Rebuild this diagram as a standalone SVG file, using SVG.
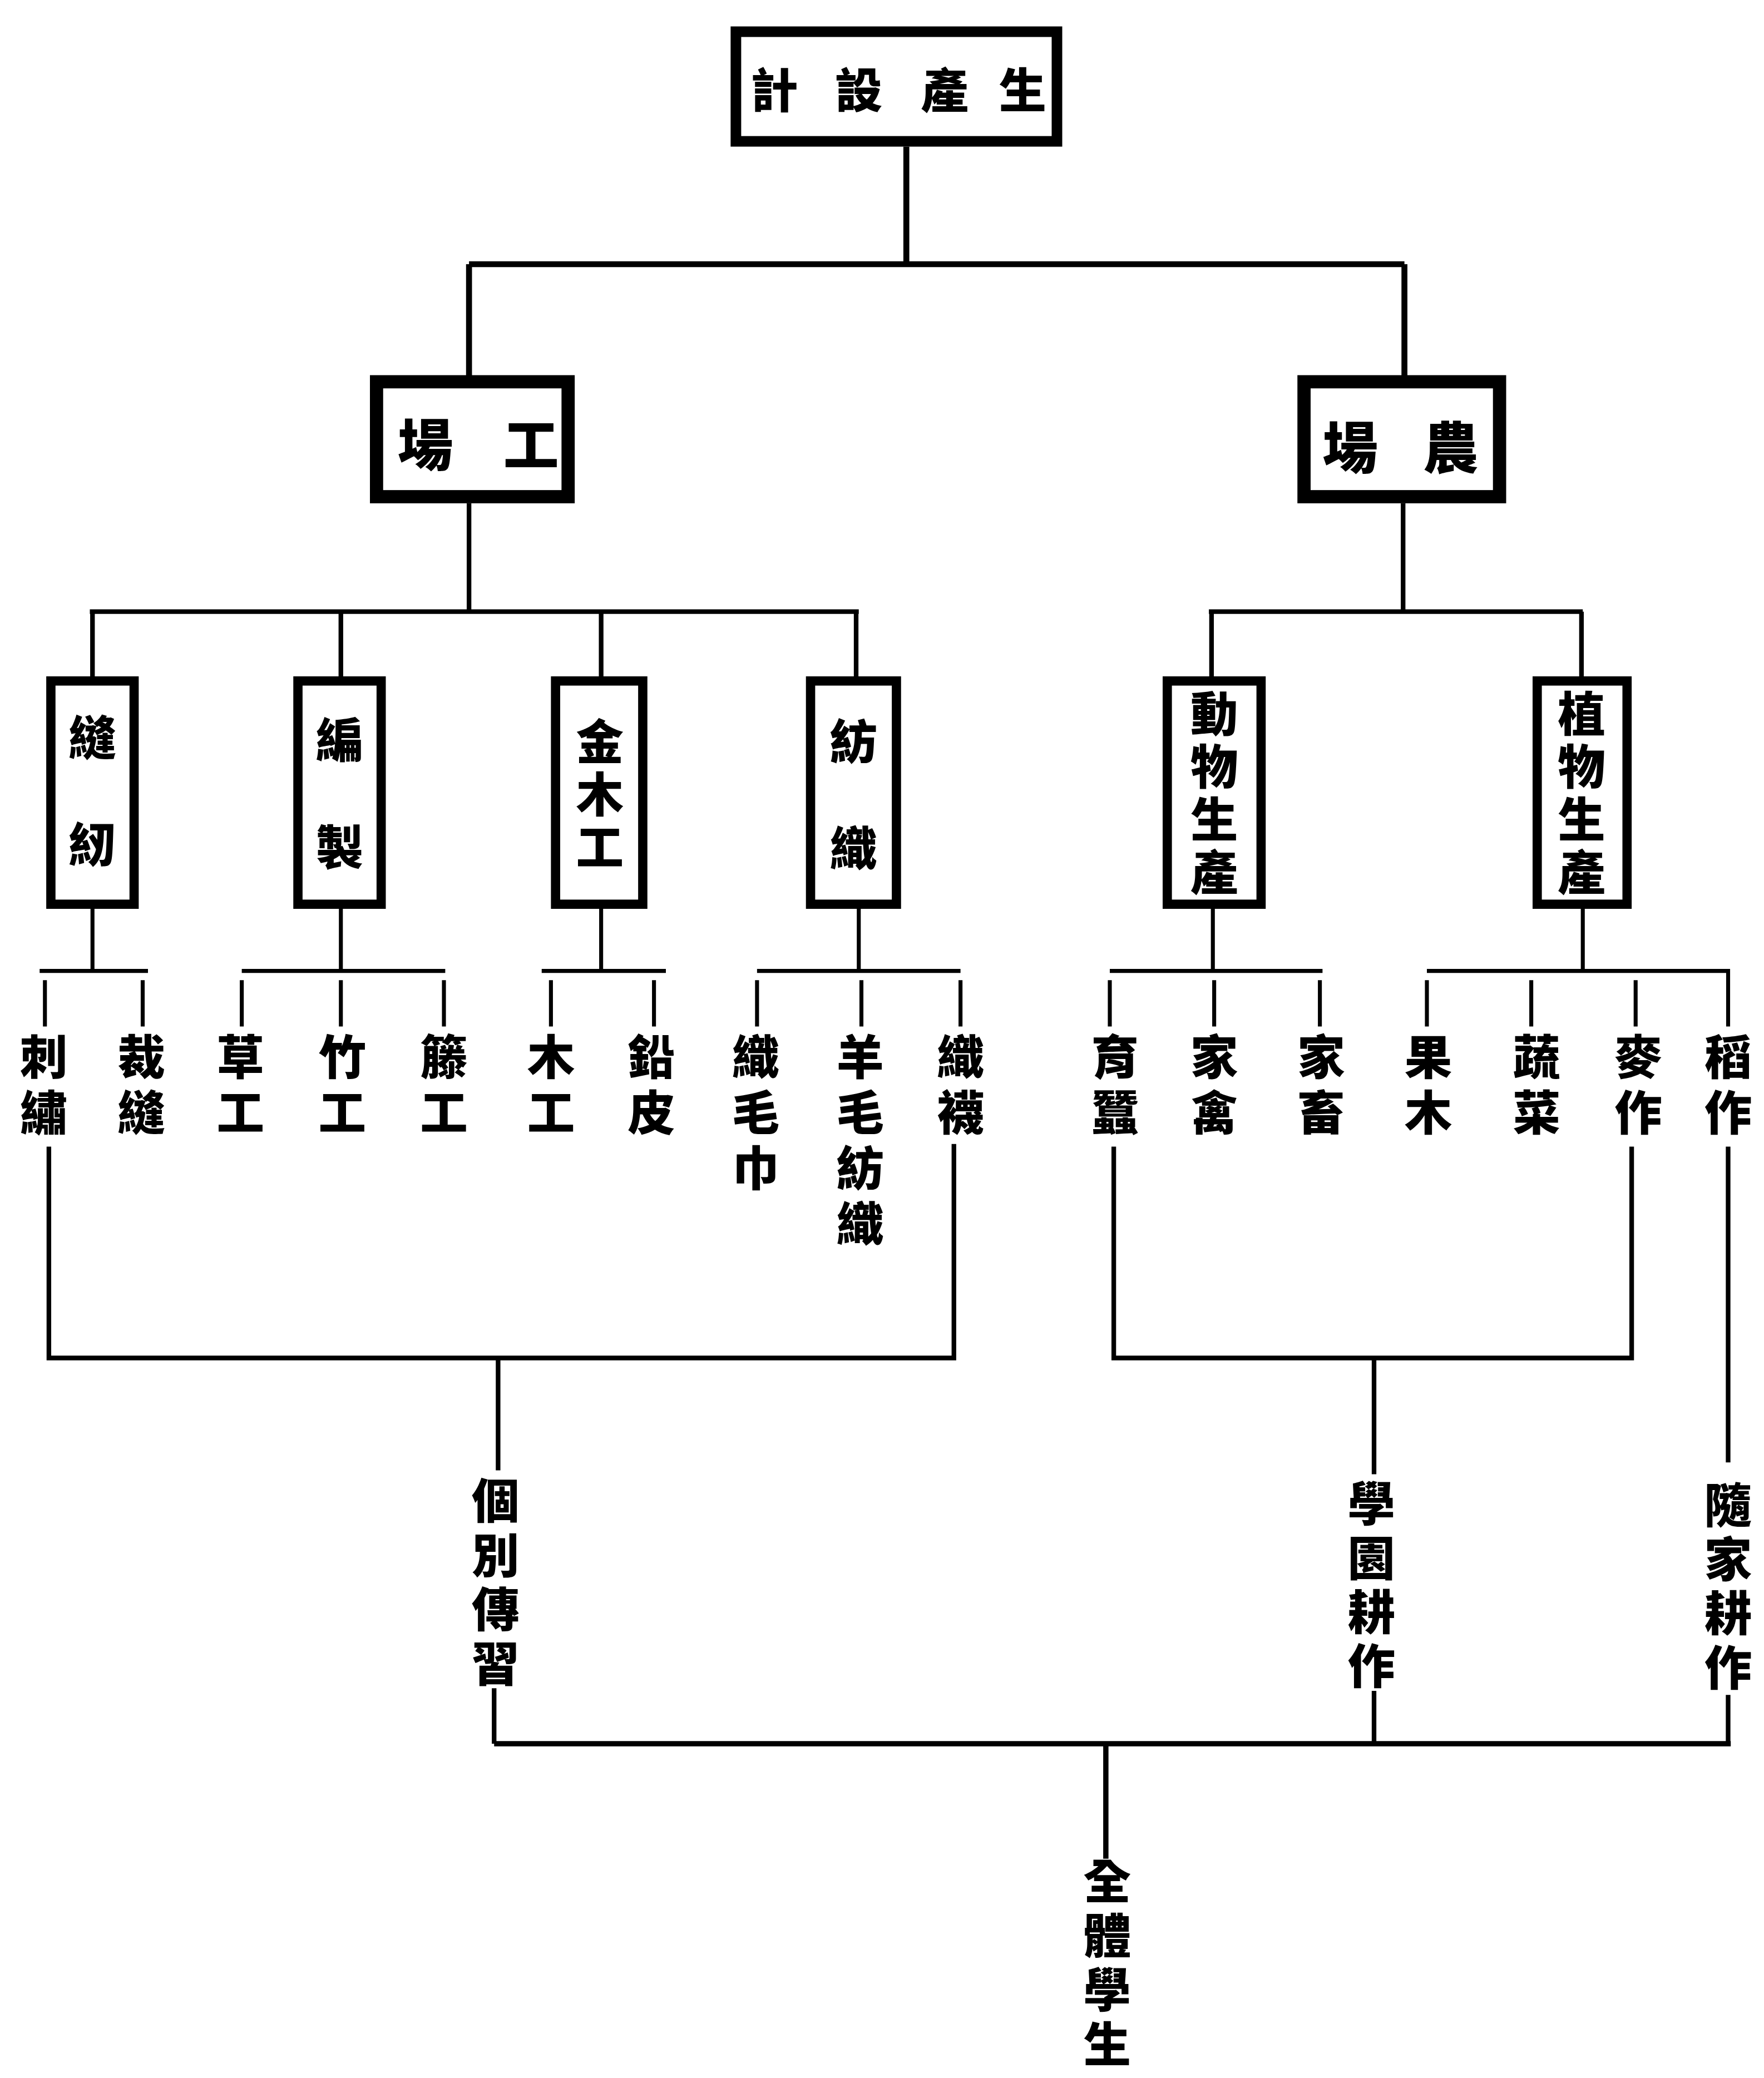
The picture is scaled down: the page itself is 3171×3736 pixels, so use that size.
<svg xmlns="http://www.w3.org/2000/svg" width="3171" height="3736" viewBox="0 0 3171 3736">
<style>
.t{font-family:"Noto Sans CJK TC","Noto Sans CJK SC",sans-serif;font-weight:900;fill:#000;text-anchor:middle;dominant-baseline:central}
.v{writing-mode:vertical-rl;text-orientation:upright}
.box{fill:#fff;stroke:#000}
.ln{stroke:#000;fill:none;stroke-linecap:butt;stroke-linejoin:miter}
</style>
<rect width="3171" height="3736" fill="#fff"/>
<g transform="scale(2.375)">
<g id="connectors">
<path class="ln" stroke-width="4.5" d="M686 111V200M355 200H1063M355 200V285M1063 200V285"/>
<path class="ln" stroke-width="3.5" d="M355 381V463M68 463H650M70 463V512M258 463V512M455 463V512M648 463V512"/>
<path class="ln" stroke-width="3.5" d="M1062 381V463M915 463H1198M917 463V512M1197 463V512"/>
<path class="ln" stroke-width="3" d="M70 688V735M30 735H112M34 742V777M108 742V777"/>
<path class="ln" stroke-width="3" d="M258 688V735M183 735H337M183 742V777M258 742V777M336 742V777"/>
<path class="ln" stroke-width="3" d="M455 688V735M410 735H504M417 742V777M495 742V777"/>
<path class="ln" stroke-width="3" d="M650 688V735M573 735H727M573 742V777M652 742V777M727 742V777"/>
<path class="ln" stroke-width="3" d="M918 688V735M840 735H1001M840 742V777M919 742V777M999 742V777"/>
<path class="ln" stroke-width="3" d="M1198 688V735M1080 735H1308V777M1080 742V777M1159 742V777M1238 742V777"/>
<path class="ln" stroke-width="3.5" d="M37 868V1028H722V866"/>
<path class="ln" stroke-width="3.5" d="M843 868V1028H1235V868"/>
<path class="ln" stroke-width="3.5" d="M377 1028V1113M374 1278V1320M1040 1028V1116M1040 1280V1320M1308 868V1107M1308 1283V1320"/>
<path class="ln" stroke-width="4" d="M374 1320H1310M837 1320V1407"/>
</g>
<g id="n-top"><rect class="box" x="557" y="24" width="243" height="83" stroke-width="8"/>
<text class="t" font-size="36"><tspan x="586" y="66">計</tspan><tspan x="650" y="66">設</tspan><tspan x="715" y="66">產</tspan><tspan x="774" y="66">生</tspan></text></g>
<g id="n-gongchang"><rect class="box" x="285" y="289" width="145" height="87" stroke-width="10"/>
<text class="t" font-size="42"><tspan x="322" y="334">場</tspan><tspan x="402" y="334">工</tspan></text></g>
<g id="n-nongchang"><rect class="box" x="987" y="289" width="148" height="87" stroke-width="10"/>
<text class="t" font-size="42"><tspan x="1022" y="336">場</tspan><tspan x="1098" y="336">農</tspan></text></g>
<g id="n-fengren"><rect class="box" x="38.5" y="515.5" width="63" height="169" stroke-width="7"/>
<text class="t v" font-size="36" letter-spacing="45" x="70" y="621">縫紉</text></g>
<g id="n-bianzhi"><rect class="box" x="225.5" y="515.5" width="63" height="169" stroke-width="7"/>
<text class="t v" font-size="36" letter-spacing="45" x="257" y="623">編製</text></g>
<g id="n-jinmugong"><rect class="box" x="420.5" y="515.5" width="66" height="169" stroke-width="7"/>
<text class="t v" font-size="36" letter-spacing="4" x="454" y="603">金木工</text></g>
<g id="n-fangzhi"><rect class="box" x="613.5" y="515.5" width="65" height="169" stroke-width="7"/>
<text class="t v" font-size="36" letter-spacing="45" x="646" y="624">紡織</text></g>
<g id="n-dongwu"><rect class="box" x="883.5" y="515.5" width="71" height="169" stroke-width="7"/>
<text class="t v" font-size="36" letter-spacing="4" x="919" y="602">動物生產</text></g>
<g id="n-zhiwu"><rect class="box" x="1163.5" y="515.5" width="68" height="169" stroke-width="7"/>
<text class="t v" font-size="36" letter-spacing="4" x="1197" y="602">植物生產</text></g>
<g id="leaves" class="t v" font-size="36" letter-spacing="6">
<text x="33" y="824">刺繡</text>
<text x="107" y="824">裁縫</text>
<text x="182" y="824">草工</text>
<text x="259" y="824">竹工</text>
<text x="336" y="824">籐工</text>
<text x="417" y="824">木工</text>
<text x="493" y="824">鉛皮</text>
<text x="572" y="845">織毛巾</text>
<text x="651" y="866">羊毛紡織</text>
<text x="727" y="824">織襪</text>
<text x="844" y="824">育蠶</text>
<text x="919" y="824">家禽</text>
<text x="1000" y="824">家畜</text>
<text x="1081" y="824">果木</text>
<text x="1163" y="824">蔬菜</text>
<text x="1240" y="824">麥作</text>
<text x="1308" y="824">稻作</text>
</g>
<g id="outcomes" class="t v" font-size="36" letter-spacing="5">
<text x="375" y="1200">個別傳習</text>
<text x="1038" y="1202">學園耕作</text>
<text x="1308" y="1203">隨家耕作</text>
<text x="838" y="1488">全體學生</text>
</g>
</g>
</svg>
